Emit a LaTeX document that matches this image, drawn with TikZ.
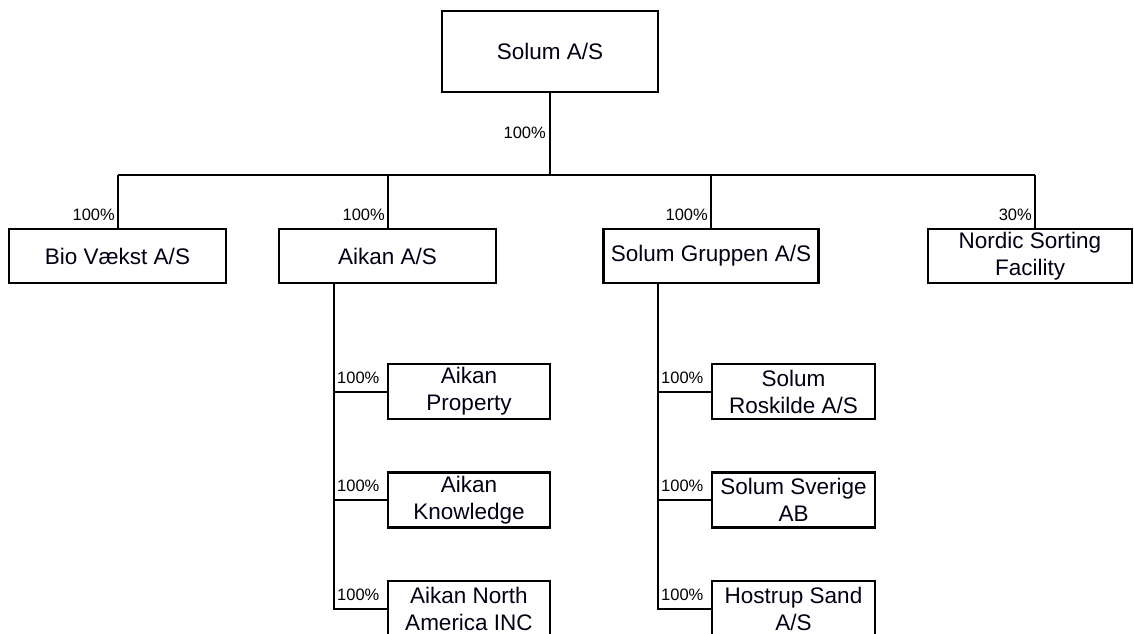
\documentclass[tikz,border=0pt]{standalone}
\usepackage{fontspec}
\setmainfont{Liberation Sans}
\begin{document}
\begin{tikzpicture}[x=1pt,y=-1pt,
  box/.style={draw=black,line width=2.4pt,rectangle,inner sep=0pt,align=center,
    font=\fontsize{22.5}{27}\selectfont,text=black!92!blue},
  pct/.style={inner sep=0pt,font=\fontsize{16.5}{16.5}\selectfont},
  conn/.style={line width=2pt,black}]
\useasboundingbox[fill=white] (0,0) rectangle (1134,633);
\clip (0,0) rectangle (1134,633);
% nodes
\node[box,minimum width=216pt,minimum height=81pt] (top) at (550,51.5) {Solum A/S};
\node[box,minimum width=217pt,minimum height=54pt] (bio) at (117.5,256) {Bio Vækst A/S};
\node[box,minimum width=217pt,minimum height=54pt] (aik) at (387.5,256) {Aikan A/S};
\node[box,minimum width=215pt,minimum height=54pt] (sg) at (711,256) {Solum Gruppen A/S};
\node[box,minimum width=204pt,minimum height=54pt] (nsf) at (1030,256) {Nordic Sorting\\Facility};
\node[box,minimum width=162pt,minimum height=55pt] (ap) at (469,391.5) {Aikan\\Property};
\node[box,minimum width=162pt,minimum height=55pt] (ak) at (469,500) {Aikan\\Knowledge};
\node[box,minimum width=162pt,minimum height=55pt] (ana) at (469,608.5) {Aikan North\\America INC};
\node[box,minimum width=163pt,minimum height=55pt] (sr) at (793.5,391.5) {Solum\\Roskilde A/S};
\node[box,minimum width=163pt,minimum height=55pt] (ss) at (793.5,500) {Solum Sverige\\AB};
\node[box,minimum width=163pt,minimum height=55pt] (hs) at (793.5,608.5) {Hostrup Sand\\A/S};
% bus coordinates
\coordinate (b0) at (550,175);
\coordinate (b1) at (117.5,175);
\coordinate (b2) at (387.5,175);
\coordinate (b3) at (711,175);
\coordinate (b4) at (1035,175);
\coordinate (b4d) at (1035,229);
\coordinate (av) at (334,283);
\coordinate (sv) at (658,283);
% connectors
\draw[conn] (top.south) -- (b0);
\draw[conn] (b1) -- (b4);
\draw[conn] (b1) -- (bio.north);
\draw[conn] (b2) -- (aik.north);
\draw[conn] (b3) -- (sg.north);
\draw[conn] (b4) -- (b4d);
\draw[conn] (av) |- (ana.west);
\draw[conn] (av) |- (ap.west);
\draw[conn] (av) |- (ak.west);
\draw[conn] (sv) |- (hs.west);
\draw[conn] (sv) |- (sr.west);
\draw[conn] (sv) |- (ss.west);
% labels
\node[pct,anchor=east] (l0) at (546,133) {100\%};
\node[pct,anchor=east] (l1) at (115,215) {100\%};
\node[pct,anchor=east] (l2) at (385,215) {100\%};
\node[pct,anchor=east] (l3) at (708,215) {100\%};
\node[pct,anchor=east] (l4) at (1032,215) {30\%};
\node[pct,anchor=west] (l5) at (337,378) {100\%};
\node[pct,anchor=west] (l6) at (337,486) {100\%};
\node[pct,anchor=west] (l7) at (337,595) {100\%};
\node[pct,anchor=west] (l8) at (661,378) {100\%};
\node[pct,anchor=west] (l9) at (661,486) {100\%};
\node[pct,anchor=west] (l10) at (661,595) {100\%};
\end{tikzpicture}
\end{document}
